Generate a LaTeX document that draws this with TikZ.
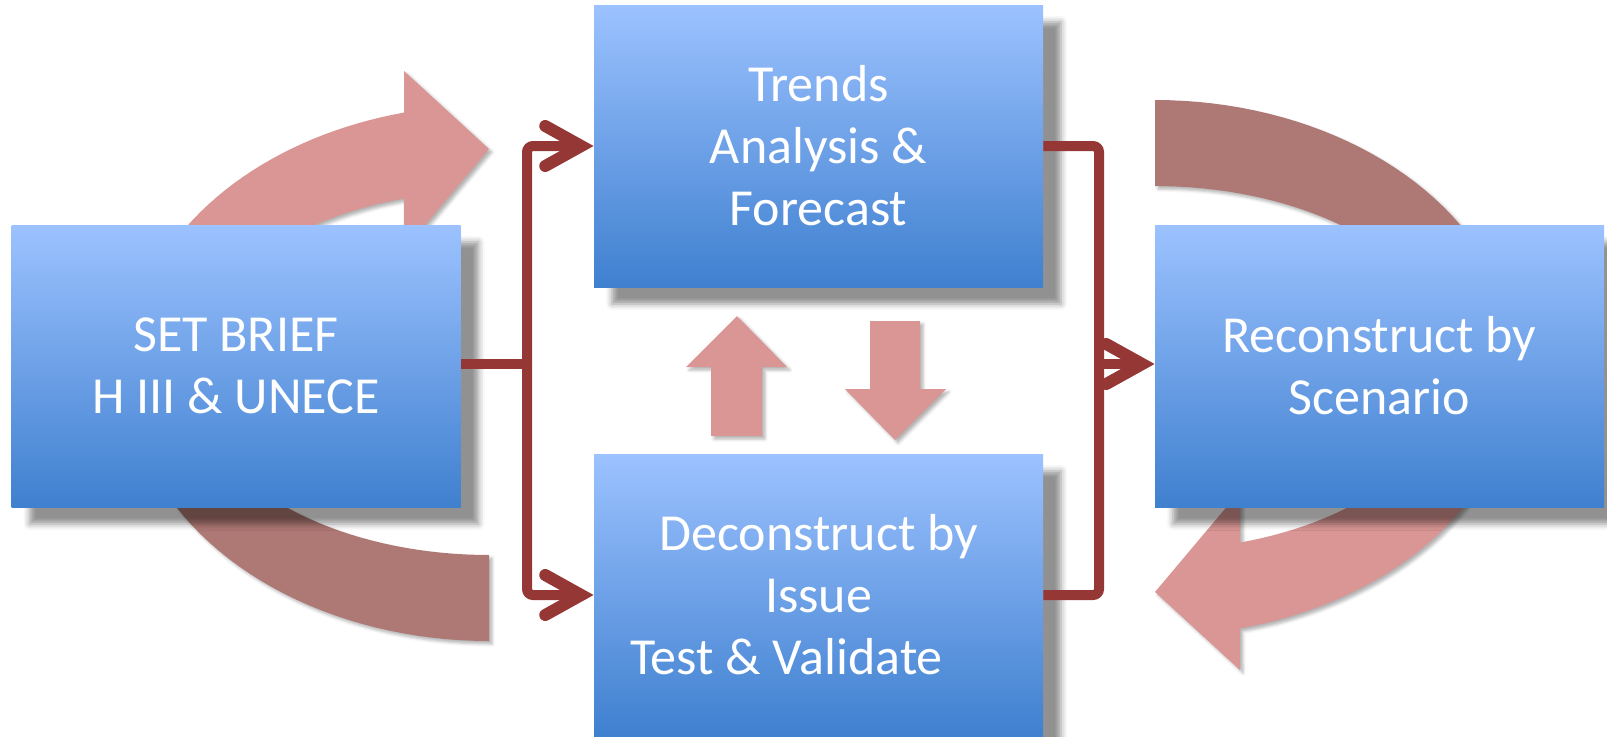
\documentclass[tikz,border=0pt]{standalone}
\usepackage{fontspec}
\setmainfont{Carlito}
\usepackage{tikz}
\usetikzlibrary{arrows.meta, calc, positioning, shadows.blur}
\usepackage{xcolor}

\definecolor{boxtop}{HTML}{9CC2FF}
\definecolor{boxbot}{HTML}{3F80CF}
\definecolor{linkred}{HTML}{953735}
\definecolor{loopfront}{HTML}{D99694}
\definecolor{loopback}{HTML}{AE7874}

\begin{document}
\begin{tikzpicture}[x=0.5pt, y=-0.5pt,
  >={Straight Barb[length=18pt, width=20pt, line width=6pt, line cap=round]},
  box/.style={shade, top color=boxtop, bottom color=boxbot, text=white,
    minimum width=224.5pt, minimum height=141pt, inner sep=0pt, align=center,
    font=\fontsize{26pt}{31pt}\selectfont,
    blur shadow={shadow xshift=9pt, shadow yshift=-8.5pt, shadow opacity=43, shadow blur radius=3pt}},
  link/.style={draw=linkred, line width=5pt, rounded corners=3pt},
  loopshade/.style={blur shadow={shadow xshift=1.5pt, shadow yshift=-1.5pt, shadow opacity=30, shadow blur radius=1.5pt}}]

\useasboundingbox (0,0) rectangle (1607,736);

% loop round the brief
\fill[loopfront, loopshade] plot[domain=180:256.4, samples=40] ({489+361*cos(\x)},{373+268*sin(\x)})
  -- (404,71) -- (489,149) -- (404,250)
  -- plot[domain=253.5:180, samples=40] ({489+300*cos(\x)},{373+182*sin(\x)}) -- cycle;
\fill[loopback, loopshade] plot[domain=90:180, samples=40] ({489+361*cos(\x)},{373+268*sin(\x)})
  -- plot[domain=180:90, samples=40] ({489+300*cos(\x)},{373+182*sin(\x)}) -- cycle;

% loop round the scenario
\fill[loopfront, loopshade] plot[domain=0:76.4, samples=40] ({1155+361*cos(\x)},{368+268*sin(\x)})
  -- (1240,670) -- (1155,592) -- (1240,491)
  -- plot[domain=73.5:0, samples=40] ({1155+300*cos(\x)},{368+182*sin(\x)}) -- cycle;
\fill[loopback, loopshade] plot[domain=270:360, samples=40] ({1155+361*cos(\x)},{368+268*sin(\x)})
  -- plot[domain=360:270, samples=40] ({1155+300*cos(\x)},{368+182*sin(\x)}) -- cycle;

% up and down
\fill[loopfront, loopshade] (711,436) -- (711,367) -- (686,367) -- (737,316)
  -- (787,367) -- (762,367) -- (762,436) -- cycle;
\fill[loopfront, loopshade] (870,321) -- (920,321) -- (920,389) -- (946,389)
  -- (895,440) -- (845,389) -- (870,389) -- cycle;

\node[box] (B) at (236,366) {SET BRIEF\\H III \& UNECE};
\node[box] (T) at (818.5,146) {Trends\\Analysis \&\\Forecast};
\node[box] (D) at (818.5,595) {Deconstruct by\\Issue\\Test \& Validate\hspace*{32pt}};
\node[box] (R) at (1379.5,366) {Reconstruct by\\Scenario};

% arrows
\coordinate (jl) at (527,364);
\coordinate (jr) at (1099,364);
\draw[link] (B.east |- jl) -- (jl);
\draw[link, ->] (jl) |- (T.west);
\draw[link, ->] (jl) |- (D.west);
\draw[link] (T.east) -| (jr) |- (D.east);
\draw[link, ->] (jr) -- (R.west |- jr);

\end{tikzpicture}
\end{document}
